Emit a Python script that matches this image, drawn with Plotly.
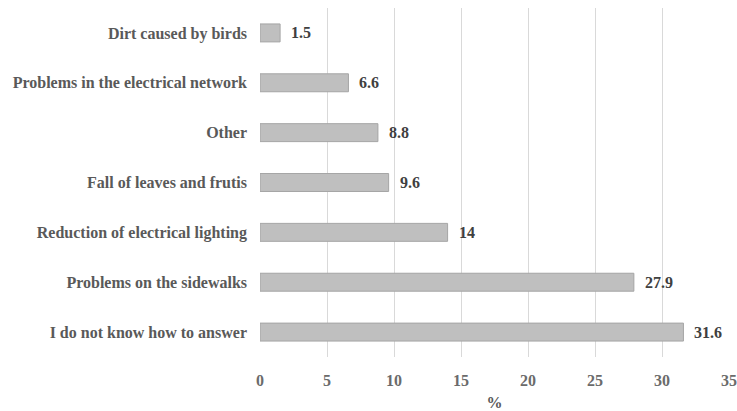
import plotly.graph_objects as go

categories = [
    "I do not know how to answer",
    "Problems on the sidewalks",
    "Reduction of electrical lighting",
    "Fall of leaves and frutis",
    "Other",
    "Problems in the electrical network",
    "Dirt caused by birds",
]
values = [31.6, 27.9, 14, 9.6, 8.8, 6.6, 1.5]
value_labels = ["31.6", "27.9", "14", "9.6", "8.8", "6.6", "1.5"]
x_ticks = [0, 5, 10, 15, 20, 25, 30, 35]

SERIF = "Liberation Serif, DejaVu Serif, serif"

fig = go.Figure(
    go.Bar(
        x=values,
        y=categories,
        orientation="h",
        marker=dict(color="#bfbfbf", line=dict(color="#a5a5a5", width=1)),
        hoverinfo="skip",
    )
)

for cat, val, lab in zip(categories, values, value_labels):
    fig.add_annotation(
        x=val, y=cat, text=f"<b>{lab}</b>", showarrow=False,
        xanchor="left", xshift=9,
        font=dict(family=SERIF, size=16, color="#404040"),
    )

fig.update_layout(
    width=737, height=411,
    margin=dict(l=260, r=8, t=8, b=54, autoexpand=False),
    paper_bgcolor="white", plot_bgcolor="white",
    bargap=0.64,
    showlegend=False,
    xaxis=dict(
        range=[0, 35], tickvals=x_ticks, ticktext=[f"<b>{t}</b>" for t in x_ticks],
        showgrid=True, gridcolor="#d9d9d9", gridwidth=1,
        zeroline=False, showline=False, ticks="", automargin=False,
        ticklabelstandoff=12,
        tickfont=dict(family=SERIF, size=16, color="#6b6b6b"),
        title=dict(text="<b>%</b>", font=dict(family=SERIF, size=16, color="#595959"), standoff=8),
    ),
    yaxis=dict(
        categoryorder="array", categoryarray=categories,
        showgrid=False, zeroline=False, showline=False, ticks="", automargin=False,
        ticklabelstandoff=12,
        tickfont=dict(family=SERIF, size=16, color="#595959"),
        tickvals=categories, ticktext=[f"<b>{c}</b>" for c in categories],
    ),
)

fig.write_html("out.html")
